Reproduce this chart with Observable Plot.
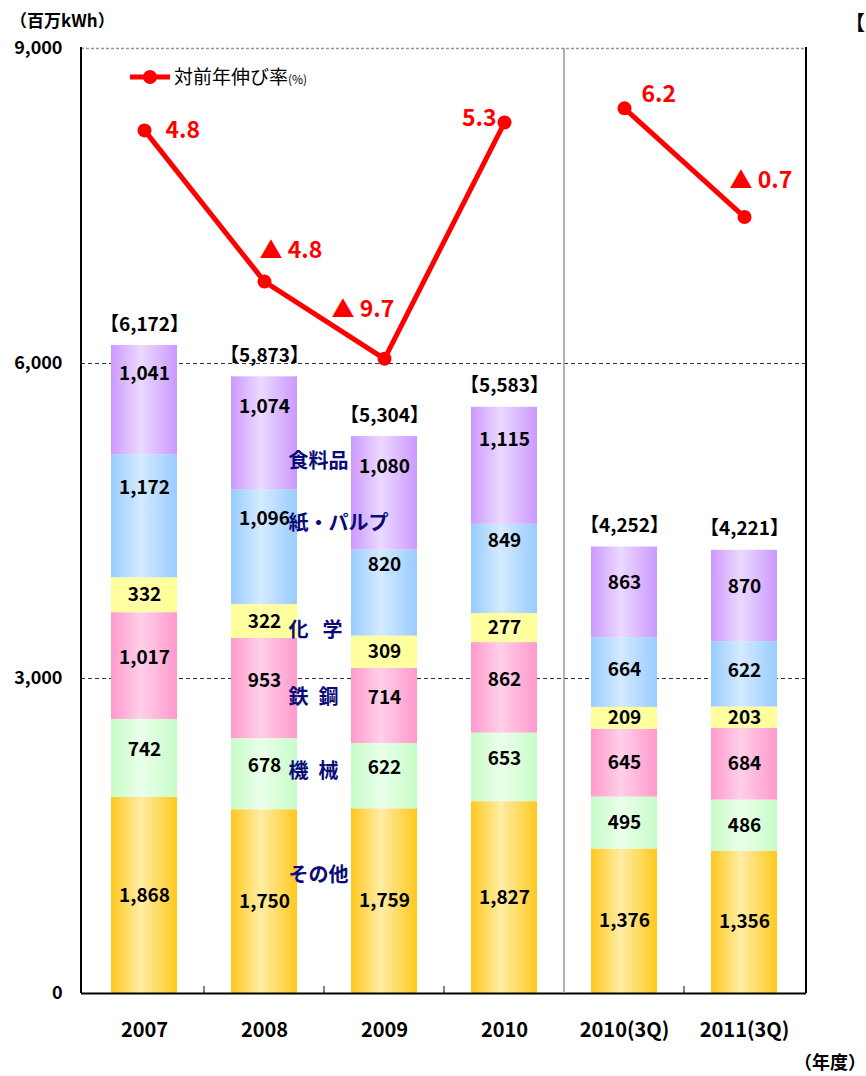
<!DOCTYPE html>
<html><head><meta charset="utf-8">
<script src="https://cdn.jsdelivr.net/npm/d3@7"></script>
<script src="https://cdn.jsdelivr.net/npm/@observablehq/plot@0.6"></script>
<style>
body{margin:0;background:#fff;}
#chart{position:relative;width:866px;height:1076px;overflow:hidden;}
#chart svg{font-family:"Noto Sans CJK JP","Noto Sans",sans-serif;overflow:visible;}
</style></head><body><div id="chart"></div>
<script>
// ---- data ----
const years = ["2007","2008","2009","2010","2010(3Q)","2011(3Q)"];
const periods = ["年度","年度","年度","年度","3Q","3Q"];
const categories = ["その他","機械","鉄鋼","化学","紙・パルプ","食料品"];
const categoryLabels = ["その他","機\u2002械","鉄\u2002鋼","化\u2002\u2009学","紙・パルプ","食料品"];
const other     = [1868,1750,1759,1827,1376,1356];
const machinery = [742,678,622,653,495,486];
const steel     = [1017,953,714,862,645,684];
const chemical  = [332,322,309,277,209,203];
const paper     = [1172,1096,820,849,664,622];
const food      = [1041,1074,1080,1115,863,870];
const totals    = [6172,5873,5304,5583,4252,4221];
const growth    = [4.8,-4.8,-9.7,5.3,6.2,-0.7];
const yTicks    = [0,3000,6000,9000];
const seriesByCat = [other,machinery,steel,chemical,paper,food];

// ---- styles ----
const gradColors = [["#FFC81E","#FFEDA6"],["#C8FCC8","#EAFFEA"],["#FF99CC","#FFD0E8"],["#FFFF99","#FFFFA8"],["#99CCFF","#D4EAFF"],["#CC99FF","#EBD9FF"]];
const valueNudge = {"年度":{"その他":0,"機械":-8,"鉄鋼":-8,"化学":0,"紙・パルプ":-28,"食料品":-26},
                    "3Q":{"その他":0,"機械":0,"鉄鋼":0,"化学":0,"紙・パルプ":-3,"食料品":-9}};
const catNudge = {"その他":-26,"機械":-4,"鉄鋼":0,"化学":-6,"紙・パルプ":-46,"食料品":-2};
const rateStyle = [{dx:21,dy:0,a:"start"},{dx:-5,dy:-31,a:"start"},{dx:-53,dy:-49,a:"start"},
                   {dx:-8,dy:-4,a:"end"},{dx:17,dy:-14,a:"start"},{dx:-15,dy:-36,a:"start"}];

const fmt = d3.format(",");
const rows = [];
years.forEach((yr,i)=>categories.forEach((c,j)=>rows.push({year:yr,cat:c,value:seriesByCat[j][i],period:periods[i],j})));
const totalRows = years.map((yr,i)=>({year:yr,total:totals[i]}));
const lineRows = years.map((yr,i)=>({year:yr,rate:growth[i],period:periods[i],i}));
function mids(i){let acc=0;return seriesByCat.map(s=>{const m=acc+s[i]/2;acc+=s[i];return m;});}
const m8 = mids(1), m9 = mids(2);
const catRows = categories.map((c,j)=>({cat:c,label:categoryLabels[j],y:(m8[j]+m9[j])/2}));
const rateY = d3.scaleLinear().domain([0,10]).range([7500,9000]);

const marks = [
  Plot.ruleY([3000,6000],{stroke:"#333",strokeWidth:1,strokeDasharray:"4,3"}),
  Plot.ruleY([9000],{stroke:"#999",strokeWidth:1.5,strokeDasharray:"3,2"}),
  Plot.barY(rows, Plot.stackY({x:"year",y:"value",z:"cat",order:categories,fill:d=>`url(#g${d.j})`})),
];
for (const p of ["年度","3Q"]) for (const c of categories) {
  marks.push(Plot.text(rows, Plot.stackY({x:"year",y:"value",z:"cat",order:categories,
    text:d=>(d.period===p&&d.cat===c)?fmt(d.value):null,
    dy:valueNudge[p][c],fontSize:19,fontWeight:"bold",fill:"#000"})));
}
marks.push(Plot.text(totalRows,{x:"year",y:"total",text:d=>`【${fmt(d.total)}】`,dy:-21,fontSize:19,fontWeight:"bold",fill:"#000"}));
for (const c of categories) {
  marks.push(Plot.text(catRows.filter(d=>d.cat===c),{x:()=>"2008",y:"y",text:"label",dx:24,dy:catNudge[c],
    textAnchor:"start",fontSize:20,fontWeight:"bold",fill:"#0A0A78"}));
}
marks.push(Plot.line(lineRows,{x:"year",y:d=>rateY(d.rate),z:"period",stroke:"#FF0000",strokeWidth:5}));
marks.push(Plot.dot(lineRows,{x:"year",y:d=>rateY(d.rate),r:7,fill:"#FF0000"}));
lineRows.forEach((r,i)=>{
  marks.push(Plot.text([r],{x:"year",y:d=>rateY(d.rate),
    text:d=>d.rate<0?`▲ ${Math.abs(d.rate).toFixed(1)}`:d.rate.toFixed(1),
    dx:rateStyle[i].dx,dy:rateStyle[i].dy,textAnchor:rateStyle[i].a,fontSize:23,fontWeight:"bold",fill:"#FF0000"}));
});
marks.push(Plot.ruleY([0],{stroke:"#000",strokeWidth:2}));
marks.push(Plot.axisY({ticks:yTicks,tickFormat:fmt,tickSize:0,tickPadding:19,fontSize:18,fontWeight:"bold",label:null}));
marks.push(Plot.axisX({tickSize:0,tickPadding:29,fontSize:20,fontWeight:"bold",label:null}));

const svg = Plot.plot({
  width:866,height:1076,
  marginLeft:81,marginRight:60,marginTop:48,marginBottom:83,
  style:{background:"#fff",color:"#000",fontFamily:"'Noto Sans CJK JP',sans-serif"},
  x:{domain:years,paddingInner:0.45,paddingOuter:0.225,label:null},
  y:{domain:[0,9000],label:null},
  color:{type:"identity"},
  marks
});
document.getElementById("chart").appendChild(svg);

// gradients
const s = d3.select(svg);
const defs = s.insert("defs",":first-child");
gradColors.forEach(([edge,mid],j)=>{
  const g = defs.append("linearGradient").attr("id","g"+j).attr("x1",0).attr("x2",1).attr("y1",0).attr("y2",0);
  g.append("stop").attr("offset","0%").attr("stop-color",edge);
  g.append("stop").attr("offset","45%").attr("stop-color",mid);
  g.append("stop").attr("offset","100%").attr("stop-color",edge);
});

// frame, separators, legend
const xs = svg.scale("x"), ys = svg.scale("y");
const [x0,x1] = xs.range, [yb,yt] = ys.range;
const step = xs.apply(years[1]) - xs.apply(years[0]);
const gap = step - xs.bandwidth;
const boundary = i => xs.apply(years[i]) - gap/2;
const g = s.append("g");
g.append("line").attr("x1",x0).attr("x2",x0).attr("y1",yt-1).attr("y2",yb).attr("stroke","#000").attr("stroke-width",2);
g.append("line").attr("x1",x1).attr("x2",x1).attr("y1",yt-1).attr("y2",yb).attr("stroke","#000").attr("stroke-width",2);
[1,2,3,5].forEach(i=>g.append("line").attr("x1",boundary(i)).attr("x2",boundary(i)).attr("y1",yb).attr("y2",yb-7).attr("stroke","#000").attr("stroke-width",1));
g.append("line").attr("x1",boundary(4)).attr("x2",boundary(4)).attr("y1",yt).attr("y2",yb).attr("stroke","#999").attr("stroke-width",1.5);
// legend
const lg = s.append("g").attr("text-anchor","start");
lg.append("line").attr("x1",130).attr("x2",170).attr("y1",77).attr("y2",77).attr("stroke","#FF0000").attr("stroke-width",5);
lg.append("circle").attr("cx",150).attr("cy",77).attr("r",7).attr("fill","#FF0000");
const lt = lg.append("text").attr("x",174).attr("y",84).attr("font-size",19).attr("fill","#000");
lt.append("tspan").text("対前年伸び率");
lt.append("tspan").attr("font-size",12).text("(%)");
// unit labels
s.append("text").attr("x",10).attr("y",27).attr("text-anchor","start").attr("font-size",17).attr("font-weight","bold").text("（百万kWh）");
s.append("text").attr("x",866).attr("y",1069).attr("text-anchor","end").attr("font-size",18).attr("font-weight","bold").text("（年度）");
s.append("text").attr("x",845).attr("y",30).attr("text-anchor","start").attr("font-size",20).attr("font-weight","bold").text("【");
</script></body></html>
